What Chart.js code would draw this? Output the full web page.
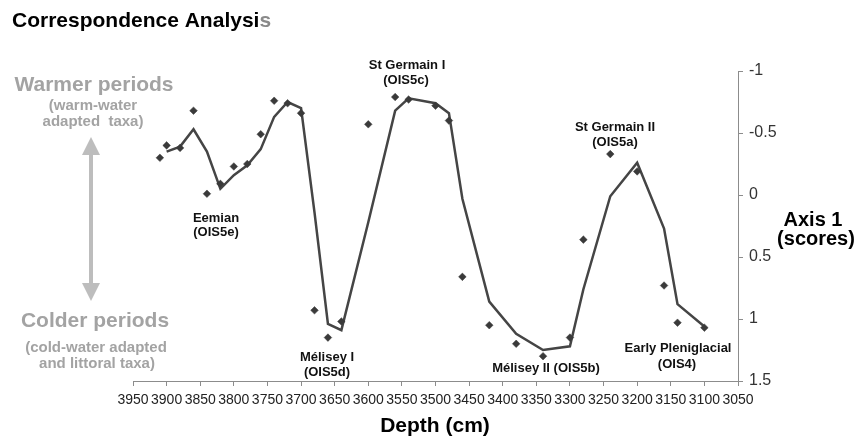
<!DOCTYPE html>
<html><head><meta charset="utf-8">
<script src="https://cdn.jsdelivr.net/npm/chart.js@4"></script>
<style>html,body{margin:0;padding:0;background:#fff}#wrap{width:859px;height:442px;position:relative}</style>
</head><body><div id="wrap"><canvas id="c" width="859" height="442"></canvas></div>
<script>
// Sample depths (cm) and correspondence-analysis Axis 1 scores
const depths = [3910,3900,3880,3860,3840,3820,3800,3780,3760,3740,3720,3700,3680,3660,3640,3600,3560,3540,3500,3480,3460,3420,3380,3340,3300,3280,3240,3200,3160,3140,3100];
const scores = [-0.30,-0.40,-0.38,-0.68,-0.01,-0.09,-0.23,-0.25,-0.49,-0.76,-0.74,-0.66,0.93,1.15,1.02,-0.57,-0.79,-0.77,-0.72,-0.60,0.66,1.05,1.20,1.30,1.15,0.36,-0.33,-0.19,0.73,1.03,1.07];
// Trend line
const trendDepths = [3900,3880,3860,3840,3820,3800,3780,3760,3740,3720,3700,3680,3660,3640,3600,3560,3540,3500,3480,3460,3420,3380,3340,3300,3280,3240,3200,3160,3140,3100];
const trendScores = [-0.35,-0.39,-0.53,-0.35,-0.05,-0.16,-0.24,-0.37,-0.63,-0.75,-0.70,0.14,1.04,1.09,0.22,-0.68,-0.78,-0.74,-0.66,0.03,0.86,1.12,1.25,1.22,0.76,0.01,-0.26,0.27,0.88,1.06];
// Axis ticks
const xTicks = [3950,3900,3850,3800,3750,3700,3650,3600,3550,3500,3450,3400,3350,3300,3250,3200,3150,3100,3050];
const yTicks = [-1,-0.5,0,0.5,1,1.5];

const FONT = '"Liberation Sans", Arial, Helvetica, sans-serif';

const annot = {
  id: 'annot',
  afterDraw(chart) {
    const ctx = chart.ctx;
    ctx.save();
    ctx.textBaseline = 'alphabetic';
    function t(str, x, y, size, color, align, weight) {
      ctx.font = (weight || 'bold') + ' ' + size + 'px ' + FONT;
      ctx.fillStyle = color;
      ctx.textAlign = align || 'center';
      ctx.fillText(str, x, y);
    }
    // Title
    ctx.font = 'bold 21px ' + FONT;
    ctx.textAlign = 'left';
    ctx.fillStyle = '#000';
    const part = 'Correspondence Analysi';
    ctx.fillText(part, 12, 27);
    const w = ctx.measureText(part).width;
    ctx.fillStyle = '#8a8a8a';
    ctx.fillText('s', 12 + w, 27);

    // Left explanatory text
    const g = '#a3a3a3';
    t('Warmer periods', 94, 91, 21, g);
    t('(warm-water', 93, 110, 15, g);
    t('adapted  taxa)', 93, 126, 15, g);
    t('Colder periods', 95, 327, 21, g);
    t('(cold-water adapted', 96, 352, 15, g);
    t('and littoral taxa)', 97, 368, 15, g);

    // Double arrow
    const ax = 91, top = 137, bot = 301, hw = 9, hh = 18;
    ctx.fillStyle = '#bdbdbd';
    ctx.fillRect(ax - 2, top + hh - 2, 4, bot - top - 2 * hh + 4);
    ctx.beginPath();
    ctx.moveTo(ax, top); ctx.lineTo(ax - hw, top + hh); ctx.lineTo(ax + hw, top + hh); ctx.closePath(); ctx.fill();
    ctx.beginPath();
    ctx.moveTo(ax, bot); ctx.lineTo(ax - hw, bot - hh); ctx.lineTo(ax + hw, bot - hh); ctx.closePath(); ctx.fill();

    // Period labels
    const k = '#111';
    t('St Germain I', 407, 69, 13, k);
    t('(OIS5c)', 406, 84, 13, k);
    t('Eemian', 216, 222, 13, k);
    t('(OIS5e)', 216, 236, 13, k);
    t('Mélisey I', 327, 361, 13, k);
    t('(OIS5d)', 327, 376, 13, k);
    t('Mélisey II (OIS5b)', 546, 372, 13, k);
    t('St Germain II', 615, 131, 13, k);
    t('(OIS5a)', 615, 146, 13, k);
    t('Early Pleniglacial', 678, 352, 13, k);
    t('(OIS4)', 677, 368, 13, k);

    // Axis titles
    t('Axis 1', 813, 226, 20, '#000');
    t('(scores)', 816, 245, 20, '#000');
    t('Depth (cm)', 435, 432, 21, '#000');
    ctx.restore();
  }
};

new Chart(document.getElementById('c'), {
  data: {
    datasets: [
      {
        type: 'line',
        data: trendDepths.map((d, i) => ({x: d, y: trendScores[i]})),
        borderColor: '#454545',
        borderWidth: 2.5,
        pointRadius: 0,
        tension: 0,
        fill: false,
        order: 2
      },
      {
        type: 'scatter',
        data: depths.map((d, i) => ({x: d, y: scores[i]})),
        pointStyle: 'rectRot',
        pointRadius: 3.8,
        backgroundColor: '#3a3a3a',
        borderColor: '#3a3a3a',
        borderWidth: 0.5,
        order: 1
      }
    ]
  },
  options: {
    responsive: false,
    devicePixelRatio: 1,
    animation: false,
    layout: { padding: { left: 133, top: 71, right: 0, bottom: 0 } },
    plugins: { legend: { display: false }, tooltip: { enabled: false }, title: { display: false } },
    scales: {
      x: {
        type: 'linear',
        position: 'bottom',
        reverse: true,
        min: 3050, max: 3950,
        afterBuildTicks: s => { s.ticks = xTicks.map(v => ({value: v})); },
        afterFit: s => { s.height = 61; },
        grid: { drawOnChartArea: false, drawTicks: true, tickLength: 5, color: '#8c8c8c' },
        border: { color: '#8c8c8c', width: 1 },
        ticks: {
          autoSkip: false, maxRotation: 0, minRotation: 0, padding: 6,
          color: '#222', font: { family: FONT, size: 14 },
          callback: v => String(v)
        }
      },
      y: {
        type: 'linear',
        position: 'right',
        reverse: true,
        min: -1, max: 1.5,
        afterBuildTicks: s => { s.ticks = yTicks.map(v => ({value: v})); },
        afterFit: s => { s.width = 121; },
        grid: { drawOnChartArea: false, drawTicks: true, tickLength: 5, color: '#8c8c8c' },
        border: { color: '#8c8c8c', width: 1 },
        ticks: {
          padding: 6, color: '#333', font: { family: FONT, size: 16 },
          callback: v => String(v)
        }
      }
    }
  },
  plugins: [annot]
});
</script>
</body></html>
